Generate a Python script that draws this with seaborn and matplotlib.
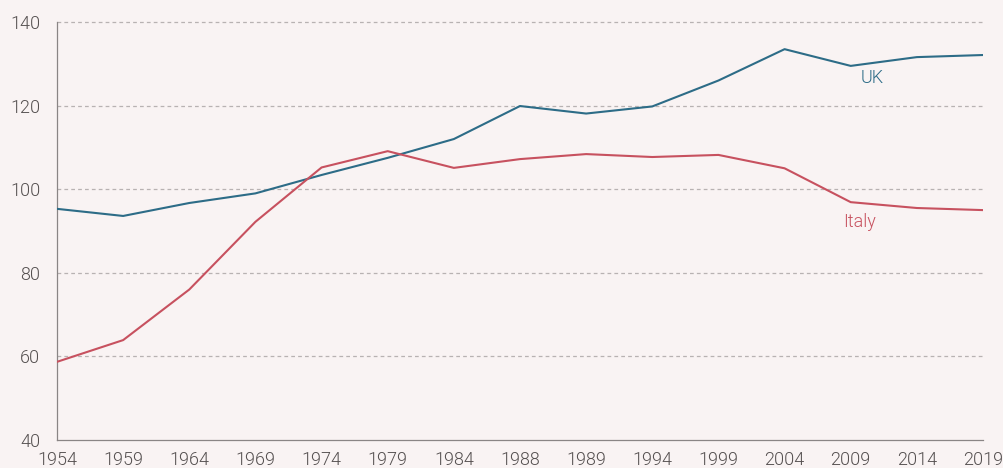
import matplotlib
matplotlib.use("Agg")
import matplotlib.pyplot as plt
import seaborn as sns
import pandas as pd
import numpy as np

years = ["1954", "1959", "1964", "1969", "1974", "1979", "1984", "1988",
         "1989", "1994", "1999", "2004", "2009", "2014", "2019"]
uk = [95.3, 93.6, 96.7, 99.0, 103.4, 107.5, 112.0, 119.9, 118.1, 119.8,
      126.0, 133.5, 129.5, 131.6, 132.1]
italy = [58.7, 63.9, 76.0, 92.2, 105.2, 109.1, 105.1, 107.2, 108.4, 107.7,
         108.2, 105.0, 96.9, 95.5, 95.0]
y_ticks = [40, 60, 80, 100, 120, 140]

bg = "#f9f3f3"
uk_col = "#2d6c87"
it_col = "#c7515f"
txt_col = "#555050"

sns.set_theme(style="white")
plt.rcParams["font.family"] = ["Roboto", "DejaVu Sans"]
plt.rcParams["font.weight"] = 300

pos = np.arange(len(years))
df = pd.DataFrame({
    "pos": np.concatenate([pos, pos]),
    "value": uk + italy,
    "country": ["UK"] * len(years) + ["Italy"] * len(years),
})

fig = plt.figure(figsize=(10.04, 4.68), dpi=100, facecolor=bg)
ax = fig.add_axes([57 / 1004, 28 / 468, (983 - 57) / 1004, (440 - 22) / 468])
ax.set_facecolor(bg)

sns.lineplot(data=df, x="pos", y="value", hue="country",
             palette={"UK": uk_col, "Italy": it_col}, linewidth=1.5,
             legend=False, ax=ax, zorder=3)

ax.set_xlim(0, len(years) - 1)
ax.set_ylim(40, 140)
ax.set_xticks(pos)
ax.set_xticklabels(years)
ax.set_yticks(y_ticks)
ax.set_yticklabels([str(t) for t in y_ticks])
ax.set_xlabel("")
ax.set_ylabel("")

for t in y_ticks[1:]:
    ax.axhline(t, color="#b8b2b2", lw=0.9, ls=(0, (3, 2.5)), zorder=1,
               clip_on=False)

for s in ["top", "right"]:
    ax.spines[s].set_visible(False)
for s in ["left", "bottom"]:
    ax.spines[s].set_color("#8a8585")
    ax.spines[s].set_linewidth(0.9)

ax.tick_params(axis="both", which="major", length=4, width=0.9,
               color="#8a8585", labelsize=13, labelcolor=txt_col,
               direction="out")
ax.tick_params(axis="y", pad=8)
ax.tick_params(axis="x", pad=4)

ax.text(12.33, 126.6, "UK", color=uk_col, fontsize=13, ha="center", va="center")
ax.text(12.13, 92.2, "Italy", color=it_col, fontsize=13, ha="center", va="center")

fig.savefig("out.png", dpi=100, facecolor=bg)
